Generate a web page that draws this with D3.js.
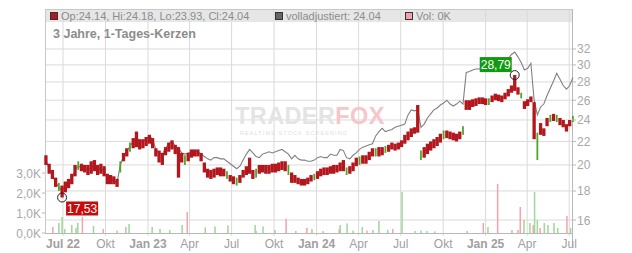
<!DOCTYPE html>
<html>
<head>
<meta charset="utf-8">
<script src="https://cdn.jsdelivr.net/npm/d3@7"></script>
<style>
  body { margin: 0; background: #fff; }
  text { font-family: "Liberation Sans", Arial, sans-serif; }
</style>
</head>
<body>
<script>
// weekly candles, first week starts Mon 2022-05-23
const firstWeek = "2022-05-23";
const weekLow = [20.0,19.3,18.9,18.3,18.0,17.53,17.9,18.2,18.5,19.1,
  19.6,19.5,19.4,19.2,19.3,19.5,19.2,19.3,19.1,18.5,
  18.5,18.5,18.3,19.4,20.3,20.7,21.1,21.4,21.5,21.3,
  21.4,21.6,21.8,21.4,20.7,20.2,20.0,20.8,21.1,21.3,
  20.9,19.0,20.2,20.0,20.3,20.6,20.7,20.7,20.3,19.4,
  19.0,18.9,19.0,19.2,19.1,19.1,18.9,18.7,18.5,18.4,
  18.6,19.0,19.2,19.3,18.9,19.0,19.3,19.4,19.3,19.3,
  19.4,19.4,19.5,19.6,19.5,19.2,18.6,18.6,18.5,18.4,
  18.4,18.5,18.7,18.8,18.9,19.1,19.2,19.2,19.3,19.3,
  19.4,19.5,19.5,19.2,19.3,19.5,19.9,20.0,20.1,20.1,
  20.4,20.7,20.7,20.7,20.8,21.0,21.1,21.3,21.2,21.3,
  21.5,21.8,22.1,22.4,22.7,22.8,20.4,20.6,20.9,21.2,
  21.4,21.6,21.9,22.2,22.3,22.2,22.1,22.0,22.2,22.6,
  25.0,25.0,25.3,25.4,25.6,25.6,25.5,25.5,25.8,26.0,
  25.9,25.8,26.1,26.4,26.8,27.0,26.6,26.2,25.1,25.4,
  25.8,22.2,20.4,22.6,22.5,23.4,23.8,23.9,23.8,23.5,
  23.3,22.9,23.4,23.8];
const weekHigh = [20.8,20.1,19.6,19.0,18.6,18.4,18.7,18.9,19.3,20.0,
  20.3,20.1,20.0,20.0,20.3,20.4,20.0,20.1,19.9,19.3,
  19.2,19.1,18.9,20.3,21.0,21.4,21.9,22.3,22.9,22.2,
  22.2,22.4,22.6,22.3,21.4,21.2,21.0,21.5,21.9,22.1,
  21.7,21.5,21.0,20.8,21.0,21.3,21.3,21.3,21.0,20.2,
  19.7,19.6,19.7,19.8,19.8,19.7,19.5,19.2,19.1,19.0,
  19.2,19.6,19.9,20.6,19.6,19.7,20.0,20.0,20.0,20.0,
  20.1,20.1,20.2,20.3,20.3,20.0,19.4,19.2,19.0,18.9,
  18.9,19.0,19.2,19.3,19.5,19.7,19.8,19.8,19.9,20.0,
  20.0,20.2,20.4,19.8,19.9,20.2,20.6,20.7,20.8,20.8,
  21.1,21.4,21.4,21.5,21.5,21.6,21.7,21.9,21.8,21.9,
  22.1,22.6,22.9,23.2,23.3,25.5,21.2,21.5,21.8,22.0,
  22.2,22.4,22.7,23.0,23.0,22.9,22.8,22.7,22.9,23.4,
  26.0,26.0,26.1,26.2,26.3,26.3,26.2,26.2,26.5,26.7,
  26.6,26.5,26.8,27.2,27.6,28.79,27.4,26.8,25.9,26.1,
  26.4,25.8,22.8,23.7,23.2,24.2,24.5,24.6,24.5,24.2,
  24.0,23.6,24.0,24.4];
const greenWeeks = [4,10,23,26,43,56,59,65,75,83,93,97,102,105,116,123,129,137,147,152,156,158,163];
// "volladjustiert" line
const adjClose = [20.4,19.7,19.2,18.6,18.3,18.0,18.3,18.6,18.9,19.6,
  19.9,19.8,19.7,19.6,19.8,20.0,19.6,19.7,19.5,18.9,
  18.8,18.8,18.6,20.0,20.7,21.1,21.6,22.0,22.4,22.0,
  22.0,22.2,22.5,22.2,21.3,21.0,20.9,21.4,21.8,22.0,
  21.6,21.4,21.0,20.9,21.0,21.1,21.2,21.1,20.9,20.7,
  20.5,20.4,20.6,20.6,20.5,20.5,20.3,20.1,19.9,19.7,
  19.9,20.4,20.9,21.3,21.0,20.7,20.6,20.9,21.0,21.1,
  21.0,21.1,21.2,21.3,21.1,20.9,20.5,20.8,20.5,20.4,
  20.4,20.3,20.3,20.4,20.6,20.7,20.6,20.6,20.9,20.8,
  20.8,21.3,21.2,20.6,20.5,20.8,21.0,21.3,21.5,21.6,
  21.7,21.8,22.5,22.9,23.2,22.9,23.0,23.1,23.3,23.4,
  23.5,23.6,24.5,25.0,24.9,25.0,23.3,23.6,24.2,24.6,
  25.0,25.2,25.5,25.7,26.0,25.6,25.4,25.6,25.9,25.6,
  29.1,29.2,29.4,29.5,29.5,29.6,29.5,29.4,29.6,29.8,
  29.7,29.6,30.0,30.8,31.3,31.6,31.0,30.3,29.4,29.6,
  30.2,26.0,24.5,25.3,25.6,26.5,27.3,28.1,29.0,28.3,
  27.6,27.2,27.6,28.5];

// volume (thousands), days with trades
const volDates = ["2022-06-09","2022-06-22","2022-06-29","2022-07-05","2022-07-20","2022-07-29","2022-08-02","2022-08-12",
  "2022-09-05","2022-09-26","2022-10-26","2022-11-14","2022-11-21","2023-01-10","2023-01-27","2023-02-17",
  "2023-03-16","2023-03-27","2023-05-05","2023-05-26","2023-06-23","2023-08-21","2023-08-23","2023-09-07",
  "2023-10-03","2023-10-27","2023-11-17","2023-12-11","2023-12-22","2024-01-15","2024-02-19","2024-02-21",
  "2024-03-07","2024-03-20","2024-04-09","2024-04-19","2024-05-02","2024-05-15","2024-06-03","2024-06-14",
  "2024-07-04","2024-08-01","2024-08-14","2024-08-27","2024-09-13","2024-11-22","2024-12-27","2025-01-06",
  "2025-01-27","2025-02-27","2025-03-12","2025-03-17","2025-03-25","2025-04-07","2025-04-14","2025-04-17",
  "2025-04-23","2025-04-29","2025-05-08","2025-05-16","2025-05-29","2025-06-06","2025-06-26","2025-07-04"];
const volK = [0.3,0.5,0.8,0.2,0.4,0.25,0.5,0.8,
  0.35,0.2,0.12,0.3,0.45,0.3,0.2,0.15,
  0.4,1.05,0.28,0.33,0.38,0.4,0.1,0.33,
  0.15,0.72,0.1,0.25,0.2,0.1,0.2,0.4,
  0.48,0.12,0.3,0.12,0.15,0.6,0.15,0.2,
  2.05,0.1,0.12,0.1,0.08,0.1,0.5,0.3,
  2.45,0.15,0.15,1.3,0.65,0.5,0.4,2.05,
  0.65,0.25,0.5,0.4,0.5,0.25,0.85,0.25];
const volUp = [0,1,1,1,1,1,1,0,
  1,0,1,1,1,1,1,1,
  1,0,1,1,1,1,1,1,
  1,0,0,0,1,1,0,1,
  1,1,1,0,1,1,1,0,
  1,1,1,1,0,0,0,1,
  0,1,0,0,1,1,0,1,
  1,0,1,1,1,1,0,1];

const priceTicks = [16,18,20,22,24,26,28,30,32];
const volTicks = [0,1,2,3];

const W = 632, H = 253;
const L = 45, R = 572, T = 9, B = 233;

const parse = d3.timeParse("%Y-%m-%d");
const start = parse(firstWeek);

const weeks = weekLow.map((lo, i) => ({
  date: d3.timeDay.offset(d3.timeMonday.offset(start, i), 2),
  lo: lo, hi: weekHigh[i], adj: adjClose[i],
  up: greenWeeks.includes(i)
}));
const vols = volDates.map((d, i) => ({ date: parse(d), v: volK[i], up: volUp[i] === 1 }));

const x = d3.scaleTime()
  .domain([start, parse("2025-07-07")])
  .range([L, R]);
const y = d3.scaleLog().domain([15.18, 35.7]).range([B, 22]);
const yv = d3.scaleLinear().domain([0, 3]).range([B, 173]);

const svg = d3.select("body").append("svg")
  .attr("width", W).attr("height", H)
  .attr("viewBox", `0 0 ${W} ${H}`);

// header band
svg.append("rect").attr("x", L).attr("y", T).attr("width", R - L).attr("height", 13).attr("fill", "#e6e6e6");

// grid
const quarterTicks = d3.timeMonth.every(3).range(parse("2022-07-01"), parse("2025-07-02"));
svg.append("g").selectAll("line").data(quarterTicks).join("line")
  .attr("x1", d => x(d)).attr("x2", d => x(d))
  .attr("y1", T).attr("y2", B + 3)
  .attr("stroke", "#dadada");
svg.append("g").selectAll("line").data(priceTicks).join("line")
  .attr("x1", L).attr("x2", R)
  .attr("y1", d => y(d)).attr("y2", d => y(d))
  .attr("stroke", "#dadada");

// frame
svg.append("line").attr("x1", L).attr("x2", R).attr("y1", T + 0.5).attr("y2", T + 0.5).attr("stroke", "#c8c8c8");
svg.append("line").attr("x1", L + 0.5).attr("x2", L + 0.5).attr("y1", T).attr("y2", B).attr("stroke", "#c8c8c8");
svg.append("line").attr("x1", R + 0.5).attr("x2", R + 0.5).attr("y1", T).attr("y2", 248).attr("stroke", "#b8b8b8");
svg.append("line").attr("x1", L).attr("x2", R).attr("y1", B + 0.5).attr("y2", B + 0.5).attr("stroke", "#b8b8b8");

// watermark
const wm = svg.append("text").attr("x", 235).attr("y", 124)
  .attr("font-size", 23.5).attr("font-weight", "bold").attr("letter-spacing", 0.4);
wm.append("tspan").attr("fill", "#e4e4e4").text("TRADER");
wm.append("tspan").attr("fill", "#f6c6ca").text("FOX");
svg.append("text").attr("x", 240).attr("y", 135)
  .attr("font-size", 5.5).attr("letter-spacing", 1.1).attr("fill", "#e0e0e0")
  .text("REALTIME STOCK SCREENING");

// volume
svg.append("g").selectAll("rect").data(vols).join("rect")
  .attr("x", d => x(d.date) - 0.75).attr("width", 1.5)
  .attr("y", d => yv(d.v)).attr("height", d => B - yv(d.v))
  .attr("fill", d => d.up ? "#9fd69a" : "#f2a3ac");

// adjusted line
svg.append("path").datum(weeks)
  .attr("d", d3.line().x(d => x(d.date)).y(d => y(d.adj)))
  .attr("fill", "none").attr("stroke", "#808080").attr("stroke-width", 1.1);

// candles
svg.append("g").selectAll("rect").data(weeks).join("rect")
  .attr("x", d => x(d.date) - (d.up ? 0.9 : 1.65)).attr("width", d => d.up ? 1.8 : 3.3)
  .attr("y", d => y(d.hi)).attr("height", d => y(d.lo) - y(d.hi))
  .attr("fill", d => d.up ? "#4ea72c" : "#b3161c");

// axes labels
svg.append("g").selectAll("line").data(priceTicks).join("line")
  .attr("x1", R).attr("x2", R + 4).attr("y1", d => y(d)).attr("y2", d => y(d)).attr("stroke", "#b8b8b8");
svg.append("g").selectAll("text").data(priceTicks).join("text")
  .attr("x", R + 5).attr("y", d => y(d) + 4.5)
  .attr("font-size", 12).attr("fill", "#a8a8a8").text(d => d);

svg.append("g").selectAll("line").data(volTicks).join("line")
  .attr("x1", L - 3).attr("x2", L).attr("y1", d => yv(d)).attr("y2", d => yv(d)).attr("stroke", "#b8b8b8");
svg.append("g").selectAll("text").data(volTicks).join("text")
  .attr("x", L - 4).attr("y", d => yv(d) + 4.5).attr("text-anchor", "end")
  .attr("font-size", 12).attr("fill", "#a8a8a8")
  .text(d => d3.format(".1f")(d).replace(".", ",") + "K");

const mon = ["Jan","Feb","Mär","Apr","Mai","Jun","Jul","Aug","Sep","Okt","Nov","Dez"];
svg.append("g").selectAll("text").data(quarterTicks).join("text")
  .attr("x", d => x(d)).attr("y", 248).attr("text-anchor", "middle")
  .attr("font-size", 12).attr("fill", "#a0a0a0")
  .attr("font-weight", (d, i) => (d.getMonth() === 0 || i === 0) ? "bold" : "normal")
  .text((d, i) => (d.getMonth() === 0 || i === 0)
    ? mon[d.getMonth()] + " " + d3.timeFormat("%y")(d)
    : mon[d.getMonth()]);

// min / max markers
const lowW = weeks.reduce((a, b) => b.lo < a.lo ? b : a);
const highW = weeks.reduce((a, b) => b.hi > a.hi ? b : a);
const fmt = v => d3.format(".2f")(v).replace(".", ",");

const lx = x(lowW.date), ly = y(lowW.lo);
svg.append("circle").attr("cx", lx).attr("cy", ly).attr("r", 4.5)
  .attr("fill", "none").attr("stroke", "#222");
svg.append("rect").attr("x", lx + 4).attr("y", ly + 4).attr("width", 32).attr("height", 14).attr("fill", "#cc0a0a");
svg.append("text").attr("x", lx + 20).attr("y", ly + 15.5).attr("text-anchor", "middle")
  .attr("font-size", 12).attr("fill", "#fff").text(fmt(lowW.lo));

const hx = x(highW.date), hy = y(highW.hi);
svg.append("circle").attr("cx", hx).attr("cy", hy).attr("r", 4.5)
  .attr("fill", "none").attr("stroke", "#222");
svg.append("rect").attr("x", hx - 35).attr("y", hy - 18).attr("width", 32).attr("height", 15).attr("fill", "#109a10");
svg.append("text").attr("x", hx - 19).attr("y", hy - 6.5).attr("text-anchor", "middle")
  .attr("font-size", 12).attr("fill", "#fff").text(fmt(highW.hi));

// legend
const legend = [
  { x: 50, fill: "#b3161c", label: "Op:24.14, Hi:24.18, Lo:23.93, Cl:24.04" },
  { x: 275, fill: "#666", label: "volladjustiert: 24.04" },
  { x: 405, fill: "#f2a3ac", label: "Vol: 0K" }
];
const lg = svg.append("g").selectAll("g").data(legend).join("g");
lg.append("rect").attr("x", d => d.x + 0.5).attr("y", 12.5).attr("width", 7).attr("height", 7)
  .attr("fill", d => d.fill).attr("stroke", "#333");
lg.append("text").attr("x", d => d.x + 11).attr("y", 20)
  .attr("font-size", 11).attr("fill", "#8c8c8c").text(d => d.label);

svg.append("text").attr("x", 53).attr("y", 38)
  .attr("font-size", 12.5).attr("font-weight", "bold").attr("fill", "#8c8c8c")
  .text("3 Jahre, 1-Tages-Kerzen");
</script>
</body>
</html>
